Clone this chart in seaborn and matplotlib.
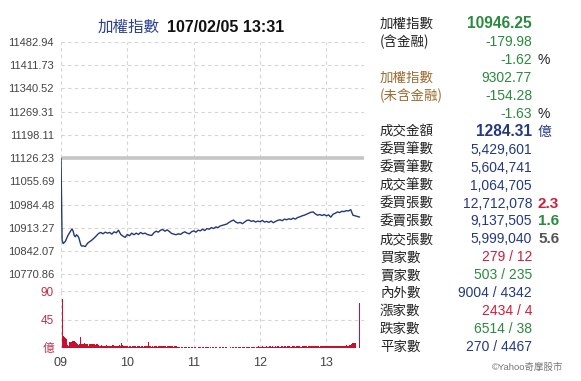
import matplotlib
matplotlib.use("Agg")
import matplotlib.pyplot as plt
import seaborn as sns
import pandas as pd

# ---------------- data ----------------
price_minutes = [0, 1, 2, 4, 6, 8, 10, 11, 12, 13, 14, 15, 16, 17, 18, 19, 20, 22, 24, 26,
                 28, 30, 32, 34, 36, 38, 40, 42, 44, 46, 48, 50, 52, 54, 56, 58, 60, 62, 64, 66,
                 68, 70, 72, 74, 76, 78, 80, 82, 84, 86, 88, 90, 92, 94, 96, 98, 100, 102, 104, 106,
                 108, 110, 112, 114, 116, 118, 120, 122, 124, 126, 128, 130, 132, 134, 136, 138, 140, 142, 144, 146,
                 148, 150, 152, 154, 156, 158, 160, 162, 164, 166, 168, 170, 172, 174, 176, 178, 180, 182, 184, 186,
                 188, 190, 192, 194, 196, 198, 200, 202, 204, 206, 208, 210, 212, 214, 216, 218, 220, 222, 224, 226,
                 228, 230, 232, 234, 236, 238, 240, 242, 244, 246, 248, 250, 252, 254, 256, 258, 260, 262, 264, 266,
                 268, 270]
price_values = [11126.23, 10875, 10865, 10872, 10888, 10900, 10910, 10903, 10889, 10886, 10892, 10889, 10884, 10872, 10860, 10857, 10858, 10856, 10866, 10871,
                10876, 10882, 10889, 10896, 10899, 10895, 10900, 10897, 10899, 10894, 10901, 10898, 10906, 10893, 10888, 10884, 10893, 10889, 10897, 10892,
                10897, 10893, 10899, 10895, 10897, 10893, 10891, 10890, 10898, 10903, 10900, 10906, 10908, 10903, 10907, 10902, 10896, 10894, 10892, 10895,
                10893, 10898, 10901, 10897, 10895, 10901, 10904, 10900, 10906, 10904, 10909, 10905, 10911, 10909, 10914, 10911, 10916, 10914, 10919, 10921,
                10923, 10925, 10930, 10934, 10937, 10931, 10928, 10930, 10926, 10931, 10936, 10937, 10933, 10935, 10931, 10934, 10932, 10936, 10931, 10933,
                10930, 10934, 10929, 10933, 10936, 10938, 10935, 10940, 10938, 10941, 10939, 10943, 10940, 10945, 10947, 10950, 10952, 10955, 10958, 10961,
                10962, 10956, 10952, 10954, 10951, 10954, 10950, 10953, 10946, 10955, 10958, 10962, 10960, 10964, 10963, 10966, 10965, 10969, 10952, 10950,
                10948, 10946.25]
prev_close = 11126.23

volume_values = [0, 78, 19, 18, 16, 14, 5, 4, 10, 10,
                 11, 12, 12, 10, 9, 6, 5, 6, 17, 7,
                 7, 8, 7, 7, 6, 3, 6, 6, 7, 6,
                 6, 5, 6, 6, 5, 4, 4, 5, 4, 4,
                 4, 5, 4, 3, 4, 4, 4, 5, 4, 4,
                 3, 4, 4, 5, 4, 9, 5, 4, 3, 3,
                 3, 2, 3, 3, 2, 3, 3, 3, 2, 3,
                 3, 3, 2, 3, 3, 2, 3, 3, 3, 10,
                 3, 3, 2, 3, 2, 3, 3, 2, 3, 4,
                 4, 3, 4, 3, 3, 2, 3, 4, 4, 3,
                 3, 3, 2, 3, 3, 2, 2, 2, 1, 2,
                 2, 1, 2, 2, 1, 2, 2, 1, 2, 2,
                 1, 2, 2, 1, 2, 2, 2, 1, 2, 2,
                 1, 2, 2, 2, 1, 2, 1, 2, 2, 1,
                 2, 2, 1, 2, 2, 1, 2, 2, 1, 2,
                 2, 1, 1, 2, 1, 2, 2, 1, 2, 2,
                 1, 2, 2, 1, 2, 2, 2, 1, 2, 2,
                 2, 1, 2, 2, 2, 2, 1, 2, 2, 3,
                 2, 2, 3, 2, 2, 2, 3, 2, 2, 3,
                 2, 3, 2, 2, 3, 2, 3, 3, 2, 3,
                 3, 2, 3, 3, 2, 3, 3, 3, 2, 3,
                 3, 3, 2, 3, 3, 3, 3, 2, 3, 3,
                 3, 3, 3, 2, 3, 3, 4, 3, 3, 3,
                 3, 3, 3, 3, 2, 3, 3, 3, 3, 3,
                 3, 3, 4, 3, 3, 3, 3, 4, 3, 3,
                 4, 3, 4, 4, 3, 4, 4, 4, 5, 4,
                 4, 5, 5, 6, 8, 9, 8, 0, 0, 0,
                 71]
volume_minutes = list(range(len(volume_values)))

price_ticks = [11482.94, 11411.73, 11340.52, 11269.31, 11198.11, 11126.23,
               11055.69, 10984.48, 10913.27, 10842.07, 10770.86]
vol_ticks = [0, 45, 90]
vol_tick_labels = ["億", "45", "90"]
hour_ticks = [0, 60, 120, 180, 240]
hour_labels = ["09", "10", "11", "12", "13"]

title_name = "加權指數"
title_time = "107/02/05 13:31"

# right panel rows: (label, label colour, value, value colour, value bold, extra, extra colour, extra bold)
panel_rows = [
    ("加權指數", "#222222", "10946.25", "#2b8a3e", True, "", None, False),
    ("(含金融)", "#222222", "-179.98", "#2b8a3e", False, "", None, False),
    ("", "#222222", "-1.62", "#2b8a3e", False, "%", "#222222", False),
    ("加權指數", "#9c6b30", "9302.77", "#2b8a3e", False, "", None, False),
    ("(未含金融)", "#9c6b30", "-154.28", "#2b8a3e", False, "", None, False),
    ("", "#222222", "-1.63", "#2b8a3e", False, "%", "#222222", False),
    ("成交金額", "#222222", "1284.31", "#24397f", True, "億", "#24397f", False),
    ("委買筆數", "#222222", "5,429,601", "#24397f", False, "", None, False),
    ("委賣筆數", "#222222", "5,604,741", "#24397f", False, "", None, False),
    ("成交筆數", "#222222", "1,064,705", "#24397f", False, "", None, False),
    ("委買張數", "#222222", "12,712,078", "#24397f", False, "2.3", "#cc1f3b", True),
    ("委賣張數", "#222222", "9,137,505", "#24397f", False, "1.6", "#2b8a3e", True),
    ("成交張數", "#222222", "5,999,040", "#24397f", False, "5.6", "#555555", True),
    ("買家數", "#222222", "279 / 12", "#cc1f3b", False, "", None, False),
    ("賣家數", "#222222", "503 / 235", "#2b8a3e", False, "", None, False),
    ("內外數", "#222222", "9004 / 4342", "#24397f", False, "", None, False),
    ("漲家數", "#222222", "2434 / 4", "#cc1f3b", False, "", None, False),
    ("跌家數", "#222222", "6514 / 38", "#2b8a3e", False, "", None, False),
    ("平家數", "#222222", "270 / 4467", "#24397f", False, "", None, False),
]
copyright_text = "©Yahoo奇摩股市"

# ---------------- style ----------------
sns.set_style("white")
FAM = ["Liberation Sans", "Noto Sans CJK TC", "DejaVu Sans"]
CJK = ["Noto Sans CJK TC", "DejaVu Sans"]
plt.rcParams["font.family"] = FAM

W, H = 581, 381
fig = plt.figure(figsize=(W / 100, H / 100), dpi=100)

def fx(px):
    return px / W

def fy(py):
    return 1 - py / H

left, right = 61, 364
ax = fig.add_axes([fx(left), fy(291), fx(right - left), fy(42) - fy(291)])
axv = fig.add_axes([fx(left), fy(348.3), fx(right - left), fy(291) - fy(348.3)])

grid_kw = dict(color="#d4d4d4", linestyle=(0, (3, 3)), linewidth=0.8)

# price line
df_p = pd.DataFrame({"minute": price_minutes, "price": price_values})
ax.axhline(prev_close, color="#c6c6c6", linewidth=2.6, zorder=2)
sns.lineplot(data=df_p, x="minute", y="price", ax=ax, color="#22397a", linewidth=1.0, zorder=3)
ax.set_xlim(0, 274)
ax.set_ylim(10719.6, 11482.94)
ax.set_yticks(price_ticks)
ax.set_yticklabels([f"{t:.2f}" for t in price_ticks])
ax.set_xticks(hour_ticks)
ax.tick_params(axis="x", length=0, labelbottom=False)
ax.tick_params(axis="y", length=3, color="#cccccc", labelsize=8, labelcolor="#444444", pad=2)
ax.grid(True, **grid_kw)
ax.set_xlabel("")
ax.set_ylabel("")
for s in ax.spines.values():
    s.set_visible(False)

# volume bars
df_v = pd.DataFrame({"minute": volume_minutes, "vol": volume_values})
sns.barplot(data=df_v, x="minute", y="vol", ax=axv, native_scale=True, width=1.0,
            color="#c8102e", saturation=1, linewidth=0, errorbar=None, zorder=3)
axv.set_xlim(0, 274)
axv.set_ylim(0, 90)
axv.set_yticks(vol_ticks)
axv.set_yticklabels(vol_tick_labels, family=FAM)
axv.set_xticks(hour_ticks)
axv.set_xticklabels(hour_labels)
axv.tick_params(axis="y", length=3, color="#cccccc", labelsize=8.5, labelcolor="#c0304a", pad=2)
axv.tick_params(axis="x", length=0, labelsize=9, labelcolor="#444444", pad=6)
axv.grid(True, **grid_kw)
axv.set_axisbelow(True)
axv.set_xlabel("")
axv.set_ylabel("")
for s in axv.spines.values():
    s.set_visible(False)

# title
fig.text(fx(98), fy(27), title_name, color="#2a3f8f", fontsize=11.2, family=CJK,
         ha="left", va="center")
fig.text(fx(167), fy(27), title_time, color="#111111", fontsize=11.5, fontweight="bold",
         ha="left", va="center")

# right panel
row_y0 = 24
row_dy = 17.95
for i, (lab, lc, val, vc, vb, ext, ec, eb) in enumerate(panel_rows):
    y = fy(row_y0 + i * row_dy)
    if lab:
        fig.text(fx(380), y, lab, color=lc, fontsize=9.7, family=CJK, ha="left", va="center")
    fig.text(fx(532), y, val, color=vc, fontsize=11.2 if vb else 10,
             fontweight="bold" if vb else "normal", ha="right", va="center")
    if ext:
        fig.text(fx(538), y, ext, color=ec, fontsize=11 if eb else 10,
                 fontweight="bold" if eb else "normal",
                 family=CJK if ext == "億" else FAM, ha="left", va="center")

fig.text(fx(563), fy(367), copyright_text, color="#777777", fontsize=6.8,
         family=FAM, ha="right", va="center")

fig.savefig("out.png", dpi=100)
